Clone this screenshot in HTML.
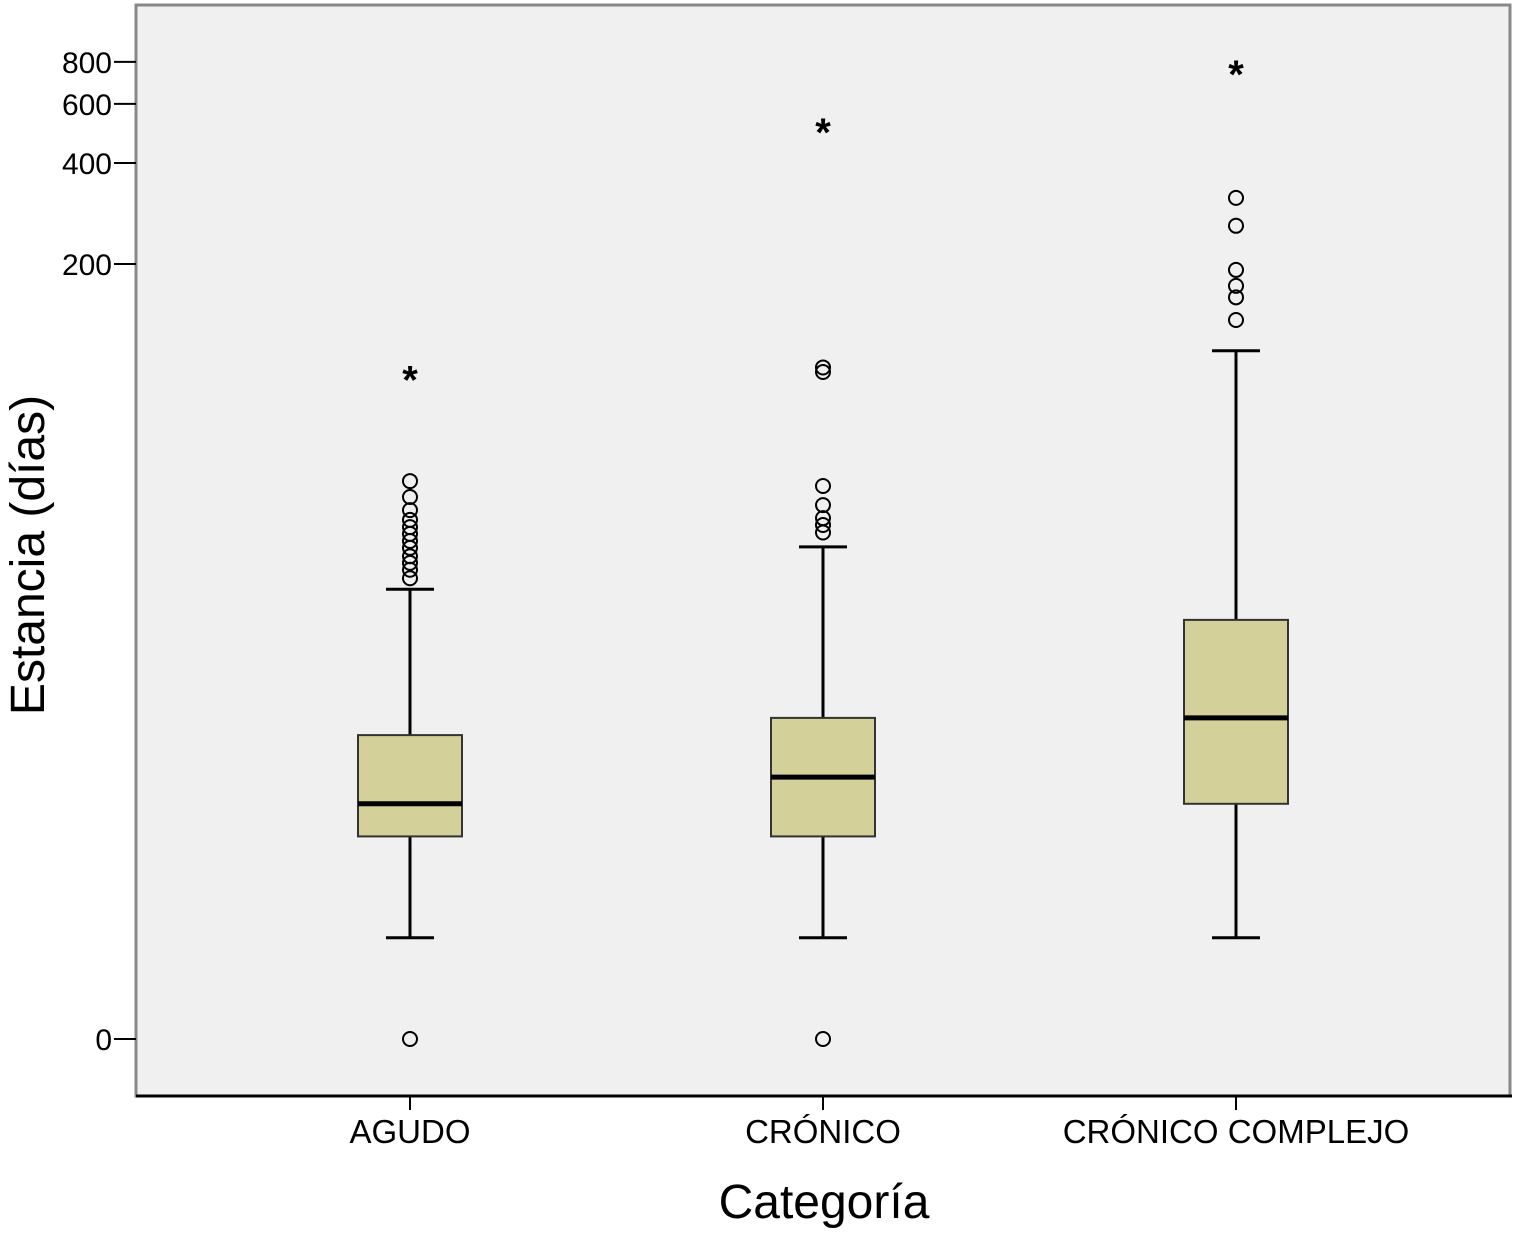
<!DOCTYPE html>
<html><head><meta charset="utf-8"><style>
body{margin:0;background:#fff;}
svg text{font-family:"Liberation Sans",sans-serif;fill:#000;}
</style></head><body>
<svg id="c" width="1520" height="1231" xmlns="http://www.w3.org/2000/svg">
<rect x="136" y="5" width="1374" height="1091" fill="#f0f0f0" stroke="#888" stroke-width="3"/>
<line x1="136" y1="1096" x2="1512" y2="1096" stroke="#000" stroke-width="3"/>
<g id="marks"></g>
<text x="28" y="555" font-size="48" text-anchor="middle" transform="rotate(-90 28 555)" dy="16">Estancia (días)</text>
<text x="824" y="1218" font-size="48" text-anchor="middle">Categoría</text>
</svg>
<script>
const categories=["AGUDO","CRÓNICO","CRÓNICO COMPLEJO"];
const whiskerLow=[1,1,1];
const q1=[3,3,4];
const medians=[4,5,8];
const q3=[7,8,16.6];
const whiskerHigh=[20.7,28,110];
const circleOutliers=[[0,22.4,23.8,25,26.2,27.8,29.2,30.7,32.2,33.9,36.3,39.8,44.5],[0,31,32.7,34.3,37.6,43,95,98],[136,159,172,192,260,315]];
const starOutliers=[[94],[516],[768]];
const yTicks=[0,200,400,600,800];
const ns="http://www.w3.org/2000/svg";
const g=document.getElementById('marks');
function y(v){return 1039-336.5*Math.log10(v+1);}
function x(i){return 410+i*413;}
function mk(tag,attrs,parent){const e=document.createElementNS(ns,tag);for(const k in attrs)e.setAttribute(k,attrs[k]);(parent||g).appendChild(e);return e;}
yTicks.forEach(t=>{
 const l=mk('line',{x1:114,x2:136,y1:y(t),y2:y(t),stroke:'#000','stroke-width':2});
 
 
 const tx=mk('text',{x:112,y:y(t)+11,'font-size':30,'text-anchor':'end'});
 tx.textContent=t;
 
 
});
categories.forEach((c,i)=>{
 const cx=x(i);
 const tk=mk('line',{x1:cx,x2:cx,y1:1096,y2:1110,stroke:'#000','stroke-width':2});
 
 
 const lb=mk('text',{x:cx,y:1143,'font-size':33,'text-anchor':'middle'});
 lb.textContent=c;
 
 
 const wl=mk('line',{x1:cx,x2:cx,y1:y(whiskerLow[i]),y2:y(whiskerHigh[i]),stroke:'#000','stroke-width':3});
 
 
 [whiskerLow[i],whiskerHigh[i]].forEach(v=>{
  const cap=mk('line',{x1:cx-24,x2:cx+24,y1:y(v),y2:y(v),stroke:'#000','stroke-width':3});
  
  
 });
 const b=mk('rect',{x:cx-52,y:y(q3[i]),width:104,height:y(q1[i])-y(q3[i]),fill:'#d4d09a',stroke:'#333','stroke-width':2});
 
 
 const m=mk('line',{x1:cx-52,x2:cx+52,y1:y(medians[i]),y2:y(medians[i]),stroke:'#000','stroke-width':5});
 
 
 circleOutliers[i].forEach(v=>{
  const o=mk('circle',{cx:cx,cy:y(v),r:7,fill:'none',stroke:'#000','stroke-width':2});
  
  
 });
 starOutliers[i].forEach(v=>{
  const s=mk('text',{x:cx,y:y(v)+20,'font-size':40,'font-weight':'bold','text-anchor':'middle'});
  s.textContent='*';
  
  
 });
});
</script>
</body></html>
